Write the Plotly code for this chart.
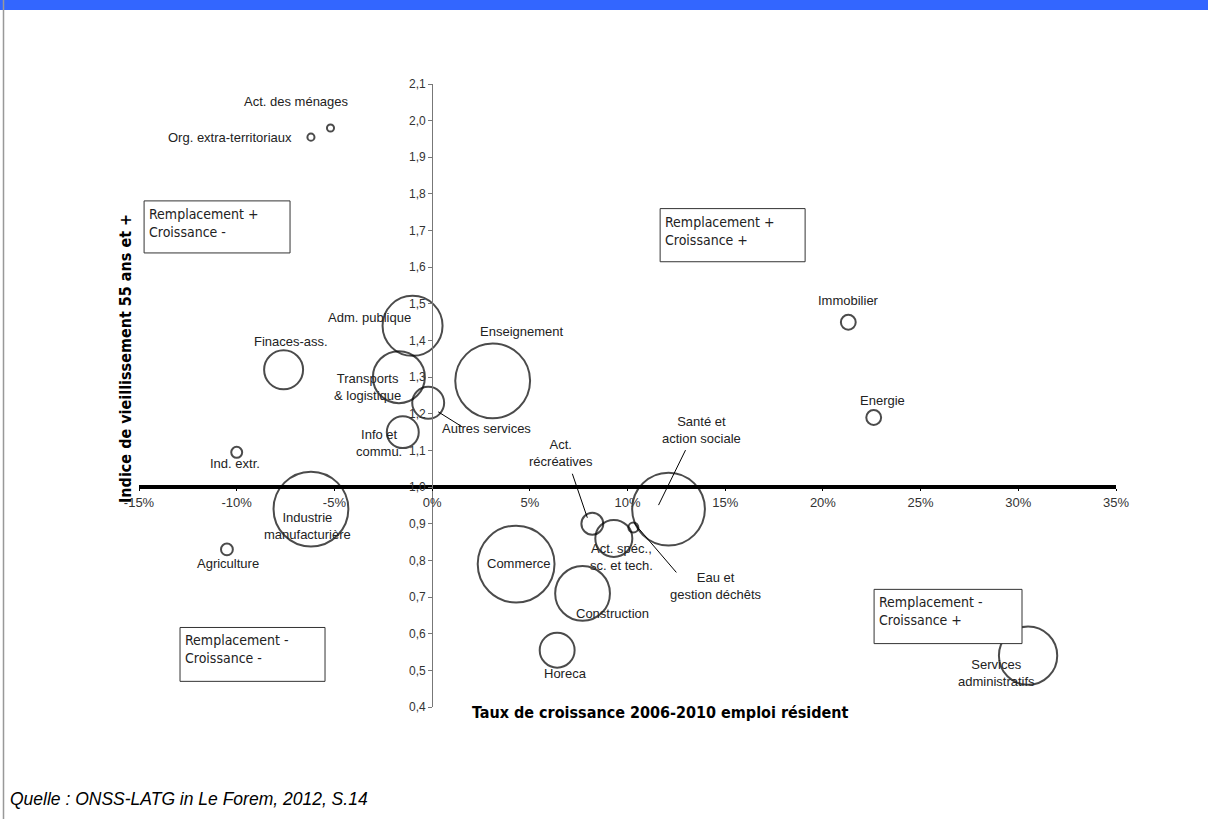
import plotly.graph_objects as go

# === Data ===
secteurs = [
    "Act. des ménages", "Org. extra-territoriaux", "Finaces-ass.", "Adm. publique",
    "Transports<br>& logistique", "Autres services", "Info et<br>commu.", "Ind. extr.",
    "Industrie<br>manufacturière", "Agriculture", "Enseignement", "Act.<br>récréatives",
    "Act. spéc.,<br>sc. et tech.", "Eau et<br>gestion déchêts", "Santé et<br>action sociale",
    "Commerce", "Construction", "Horeca", "Immobilier", "Energie", "Services<br>administratifs",
]
croissance = [-5.2, -6.2, -7.6, -1.0, -1.7, -0.2, -1.5, -10.0, -6.2, -10.5, 3.1,
              8.2, 9.3, 10.3, 12.1, 4.3, 7.7, 6.4, 21.3, 22.6, 30.5]
indice = [1.98, 1.955, 1.32, 1.44, 1.30, 1.23, 1.15, 1.095, 0.94, 0.83, 1.29,
          0.90, 0.86, 0.89, 0.94, 0.79, 0.71, 0.555, 1.45, 1.19, 0.54]
emploi = [0.5, 0.5, 15.2, 36, 27, 10.2, 10.2, 1.2, 56, 1.4, 56,
          4.8, 13.7, 1.0, 53, 59, 30, 12.2, 2.2, 2.2, 34]

# label offsets from bubble centre, in pixels (x right, y up)
lab_dx = [-34, -81, 7, -43, -31, 58, -24, -2, -3, 1, 29, -31, 8, 83, 33, 3, 30, 8, 0, 9, -32]
lab_dy = [26, 0, 28, 8, -10, -26, -11, -11, -17, -14, 49, 71, -19, -59, 79, 1, -20, -23, 22, 17, -17]

# leader lines: sector index -> (dx0, dy0, dx1, dy1) in pixels from bubble centre
leaders = {5: (10, -9, 34, -24), 11: (-20, 50, -5, 6), 14: (17, 59, -10, 4), 13: (1, 4, 43, -45)}

quadrants = ["Remplacement +<br>Croissance -", "Remplacement +<br>Croissance +",
             "Remplacement -<br>Croissance -", "Remplacement -<br>Croissance +"]
quad_x = [(-14.74, -7.27), (11.67, 19.09), (-12.9, -5.48), (22.62, 30.19)]
quad_y = [(1.781, 1.639), (1.760, 1.615), (0.617, 0.470), (0.721, 0.573)]

x_ticks = [-15, -10, -5, 0, 5, 10, 15, 20, 25, 30, 35]
x_ticktext = [f"{v}%" for v in x_ticks]
y_ticks = [0.4, 0.5, 0.6, 0.7, 0.8, 0.9, 1.0, 1.1, 1.2, 1.3, 1.4, 1.5, 1.6, 1.7, 1.8, 1.9, 2.0, 2.1]

# === Layout geometry ===
W, H = 1208, 819
ml, mr, mt, mb = 139, 92, 84, 112
pw, ph = W - ml - mr, H - mt - mb


def px_x(p):
    return (p - ml) / pw


def px_y(p):
    return (H - mb - p) / ph


FONT = "Liberation Sans, Arial, sans-serif"
NARROW = "Liberation Sans Narrow, Arial Narrow, DejaVu Sans Condensed, sans-serif"

fig = go.Figure()

fig.add_trace(go.Scatter(
    x=croissance, y=indice, mode="markers",
    marker=dict(size=emploi, sizemode="area", sizeref=0.02, sizemin=0,
                color="rgba(0,0,0,0)", line=dict(color="black", width=2)),
    hovertext=secteurs, showlegend=False, cliponaxis=False,
))

# sector labels
for i, name in enumerate(secteurs):
    fig.add_annotation(x=croissance[i], y=indice[i], text=name, showarrow=False,
                       xshift=lab_dx[i], yshift=lab_dy[i], xanchor="center", yanchor="middle",
                       font=dict(family=FONT, size=13, color="#222"), align="center")

# leader lines
for i, (a, b, c, d) in leaders.items():
    fig.add_shape(type="line", xref="x", yref="y", xsizemode="pixel", ysizemode="pixel",
                  xanchor=croissance[i], yanchor=indice[i], x0=a, y0=b, x1=c, y1=d,
                  line=dict(color="black", width=1))

# quadrant boxes
for t, (x0, x1), (y0, y1) in zip(quadrants, quad_x, quad_y):
    fig.add_shape(type="rect", xref="x", yref="y", x0=x0, x1=x1, y0=y0, y1=y1,
                  fillcolor="white", line=dict(color="#333", width=1), layer="above")
    fig.add_annotation(x=x0, y=y0, text=t, showarrow=False, xanchor="left", yanchor="top",
                       xshift=3, yshift=-3, align="left",
                       font=dict(family=NARROW, size=14, color="#222"))

# header bar and left border
fig.add_shape(type="rect", xref="paper", yref="paper", x0=px_x(0), x1=px_x(W),
              y0=px_y(0), y1=px_y(10), fillcolor="#3366FF", line=dict(width=0))
fig.add_shape(type="line", xref="paper", yref="paper", x0=px_x(3.5), x1=px_x(3.5),
              y0=px_y(0), y1=px_y(H), line=dict(color="#999", width=1.5))

# axis titles and source
fig.add_annotation(xref="paper", yref="paper", x=px_x(125), y=px_y(359),
                   xanchor="center", yanchor="middle",
                   text="<b>Indice de vieillissement 55 ans et +</b>", textangle=-90,
                   showarrow=False, font=dict(family=NARROW, size=16, color="black"))
fig.add_annotation(xref="paper", yref="paper", x=px_x(660), y=px_y(712),
                   xanchor="center", yanchor="middle",
                   text="<b>Taux de croissance 2006-2010 emploi résident</b>",
                   showarrow=False, font=dict(family=NARROW, size=16, color="black"))
fig.add_annotation(xref="paper", yref="paper", x=px_x(8), y=px_y(799),
                   xanchor="left", yanchor="middle",
                   text="<i>Quelle : ONSS-LATG in Le Forem, 2012, S.14</i>",
                   showarrow=False, font=dict(family=FONT, size=17.5, color="black"))

fig.update_layout(
    width=W, height=H,
    margin=dict(l=ml, r=mr, t=mt, b=mb),
    plot_bgcolor="white", paper_bgcolor="white",
    separators=", ",
    xaxis=dict(range=[-15, 35], anchor="free", position=(1.0 - 0.4) / 1.7,
               showgrid=False, zeroline=False, showline=True, linecolor="black", linewidth=4,
               tickvals=x_ticks, ticktext=x_ticktext, ticks="outside", ticklen=2,
               tickcolor="black", tickfont=dict(family=FONT, size=13, color="#333")),
    yaxis=dict(range=[0.4, 2.1], anchor="free", position=0.3,
               showgrid=False, zeroline=False, showline=True, linecolor="#777", linewidth=1,
               tickvals=y_ticks, tickformat=".1f", ticks="outside", ticklen=4,
               tickcolor="#777", tickfont=dict(family=FONT, size=12, color="#333")),
)

fig.write_html("out.html", config={"displayModeBar": False},
               post_script="document.body.style.margin='0';")
